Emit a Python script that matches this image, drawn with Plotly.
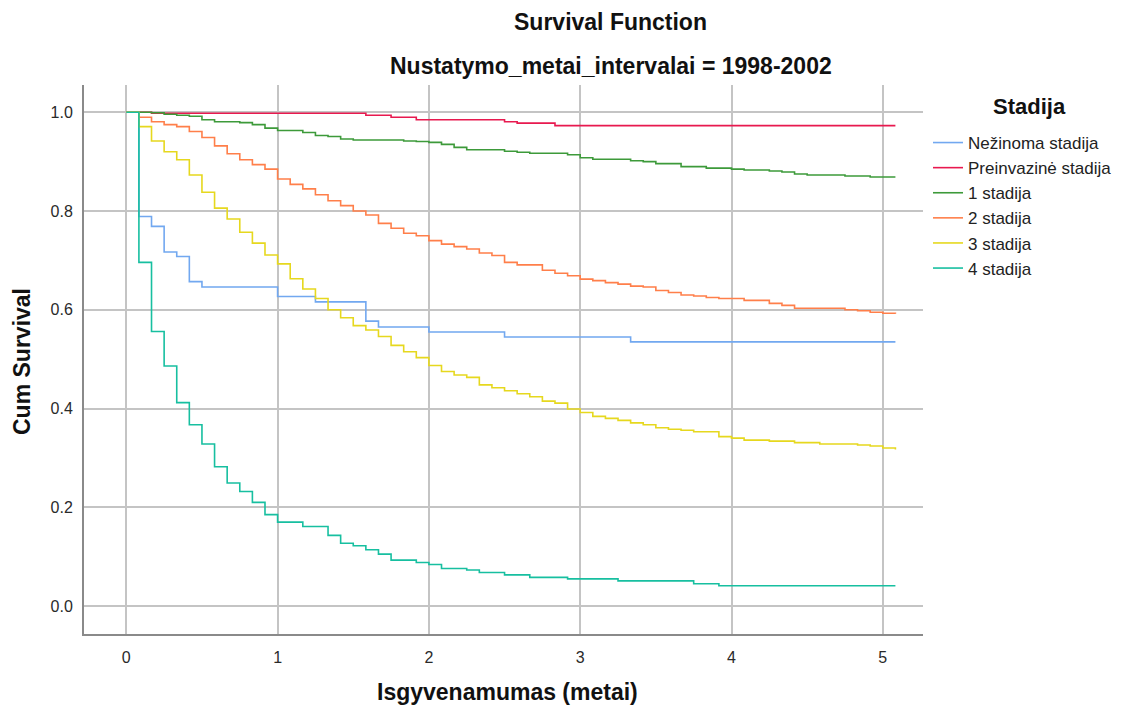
import plotly.graph_objects as go

# ---- data (months since diagnosis -> cumulative survival) ----
END_MONTH = 61

nezinoma_months = [0, 1, 2, 3, 4, 5, 6, 12, 15, 19, 20, 24, 30, 40]
nezinoma_surv = [1.0, 0.789, 0.769, 0.717, 0.708, 0.657, 0.646, 0.627, 0.616, 0.577, 0.565, 0.555, 0.545, 0.535]

preinv_months = [0, 2, 19, 21, 23, 30, 31, 34]
preinv_surv = [1.0, 0.998, 0.994, 0.990, 0.985, 0.981, 0.978, 0.973]

st1_months = [0, 2, 3, 4, 5, 6, 7, 9, 10, 11, 12, 14, 15, 16, 17, 18, 22, 23, 24, 25, 26, 27,
              30, 31, 32, 35, 36, 37, 40, 41, 42, 44, 46, 48, 49, 51, 52, 53, 54, 57, 59]
st1_surv = [1.0, 0.999, 0.996, 0.994, 0.992, 0.985, 0.981, 0.979, 0.975, 0.968, 0.963, 0.959, 0.953,
            0.951, 0.946, 0.944, 0.942, 0.941, 0.939, 0.935, 0.929, 0.924, 0.921, 0.919, 0.917, 0.914,
            0.908, 0.905, 0.902, 0.900, 0.896, 0.890, 0.887, 0.885, 0.883, 0.881, 0.879, 0.875, 0.873,
            0.871, 0.869]

st2_months = [0, 1, 2, 3, 4, 5, 6, 7, 8, 9, 10, 11, 12, 13, 14, 15, 16, 17, 18, 19, 20, 21, 22, 23,
              24, 25, 26, 27, 28, 29, 30, 31, 33, 34, 35, 36, 37, 38, 39, 40, 41, 42, 43, 44, 45, 46,
              47, 49, 51, 52, 53, 57, 58, 59, 60, 61]
st2_surv = [1.0, 0.990, 0.981, 0.975, 0.971, 0.961, 0.949, 0.932, 0.916, 0.904, 0.894, 0.885, 0.865,
            0.854, 0.845, 0.833, 0.821, 0.811, 0.800, 0.792, 0.775, 0.765, 0.755, 0.750, 0.740, 0.733,
            0.728, 0.723, 0.715, 0.710, 0.696, 0.691, 0.680, 0.674, 0.669, 0.662, 0.659, 0.655, 0.652,
            0.648, 0.646, 0.639, 0.635, 0.630, 0.628, 0.625, 0.623, 0.619, 0.613, 0.609, 0.603, 0.600,
            0.598, 0.595, 0.593, 0.592]

st3_months = [0, 1, 2, 3, 4, 5, 6, 7, 8, 9, 10, 11, 12, 13, 14, 15, 16, 17, 18, 19, 20, 21, 22, 23,
              24, 25, 26, 27, 28, 29, 30, 31, 32, 33, 34, 35, 36, 37, 38, 39, 40, 41, 42, 43, 44, 45,
              47, 48, 49, 51, 53, 55, 58, 59, 60, 61]
st3_surv = [1.0, 0.971, 0.942, 0.920, 0.904, 0.873, 0.838, 0.806, 0.784, 0.757, 0.735, 0.711, 0.693,
            0.663, 0.642, 0.623, 0.600, 0.584, 0.568, 0.559, 0.546, 0.528, 0.515, 0.503, 0.487, 0.475,
            0.468, 0.463, 0.448, 0.442, 0.436, 0.430, 0.424, 0.415, 0.411, 0.399, 0.392, 0.384, 0.380,
            0.376, 0.371, 0.367, 0.361, 0.358, 0.356, 0.353, 0.343, 0.340, 0.336, 0.334, 0.331, 0.328,
            0.326, 0.324, 0.320, 0.317]

st4_months = [0, 1, 2, 3, 4, 5, 6, 7, 8, 9, 10, 11, 12, 14, 16, 17, 18, 19, 20, 21, 23, 24, 25, 27,
              28, 30, 32, 35, 39, 45, 47]
st4_surv = [1.0, 0.696, 0.556, 0.486, 0.412, 0.367, 0.328, 0.282, 0.249, 0.232, 0.210, 0.185, 0.170,
            0.161, 0.143, 0.127, 0.122, 0.114, 0.105, 0.093, 0.088, 0.084, 0.076, 0.073, 0.068, 0.063,
            0.058, 0.055, 0.051, 0.045, 0.041]

series_names = ["Nežinoma stadija", "Preinvazinė stadija", "1 stadija", "2 stadija", "3 stadija", "4 stadija"]
series_months = [nezinoma_months, preinv_months, st1_months, st2_months, st3_months, st4_months]
series_surv = [nezinoma_surv, preinv_surv, st1_surv, st2_surv, st3_surv, st4_surv]
series_colors = ["#72A8F0", "#E8194F", "#3D9A3A", "#FF7F4A", "#E6D81E", "#17BFA0"]

x_ticks = [0, 1, 2, 3, 4, 5]
y_ticks = [0.0, 0.2, 0.4, 0.6, 0.8, 1.0]

FONT = "Liberation Sans, Arial, sans-serif"

fig = go.Figure()
for name, months, surv, col in zip(series_names, series_months, series_surv, series_colors):
    xs = [m / 12 for m in months]
    ys = list(surv)
    if months[-1] < END_MONTH:
        xs.append(END_MONTH / 12)
        ys.append(surv[-1])
    fig.add_trace(go.Scatter(
        x=xs, y=ys, mode="lines", name=name, legendgroup=name,
        line=dict(color=col, width=1.6, shape="hv"),
        hoverinfo="skip",
    ))

L, R, T, B = 84, 212, 85, 74
W, H = 1135, 708
pw, ph = W - L - R, H - T - B

def px_x(px):
    return (px - L) / pw

def px_y(py):
    return (H - B - py) / ph

fig.update_layout(
    width=W, height=H,
    margin=dict(l=L, r=R, t=T, b=B, pad=0),
    paper_bgcolor="white", plot_bgcolor="white",
    font=dict(family=FONT, color="#222222"),
    showlegend=True,
    legend=dict(
        x=px_x(928), xanchor="left", y=px_y(125), yanchor="top",
        font=dict(size=17, color="#222222", family=FONT),
        bgcolor="rgba(0,0,0,0)", borderwidth=0, tracegroupgap=0, itemwidth=30,
    ),
    xaxis=dict(
        range=[-0.2796, 5.2657], tickvals=x_ticks, ticktext=[str(v) for v in x_ticks],
        showgrid=True, gridcolor="#C4C4C4", gridwidth=1.5, zeroline=False,
        showline=True, linecolor="#8A8A8A", linewidth=2,
        ticks="", tickfont=dict(size=16, color="#2A2A2A", family=FONT), ticklabelstandoff=8,
    ),
    yaxis=dict(
        range=[-0.0567, 1.0553], tickvals=y_ticks, ticktext=[f"{v:.1f}" for v in y_ticks],
        showgrid=True, gridcolor="#C4C4C4", gridwidth=1.5, zeroline=False,
        showline=True, linecolor="#8A8A8A", linewidth=2,
        ticks="", tickfont=dict(size=16, color="#2A2A2A", family=FONT), ticklabelstandoff=6,
    ),
    annotations=[
        dict(text="<b>Survival Function</b>", x=px_x(610.5), y=px_y(22), xref="paper", yref="paper",
             xanchor="center", yanchor="middle", showarrow=False, font=dict(size=23, color="#111111")),
        dict(text="<b>Nustatymo_metai_intervalai = 1998-2002</b>", x=px_x(610.5), y=px_y(66),
             xref="paper", yref="paper", xanchor="center", yanchor="middle", showarrow=False,
             font=dict(size=23, color="#111111")),
        dict(text="<b>Isgyvenamumas (metai)</b>", x=px_x(507), y=px_y(692), xref="paper", yref="paper",
             xanchor="center", yanchor="middle", showarrow=False, font=dict(size=23, color="#111111")),
        dict(text="<b>Cum Survival</b>", x=px_x(22), y=px_y(362), xref="paper", yref="paper",
             xanchor="center", yanchor="middle", textangle=-90, showarrow=False,
             font=dict(size=23, color="#111111")),
        dict(text="<b>Stadija</b>", x=px_x(1029), y=px_y(107), xref="paper", yref="paper",
             xanchor="center", yanchor="middle", showarrow=False, font=dict(size=22, color="#111111")),
    ],
)

fig.write_html("out.html")
